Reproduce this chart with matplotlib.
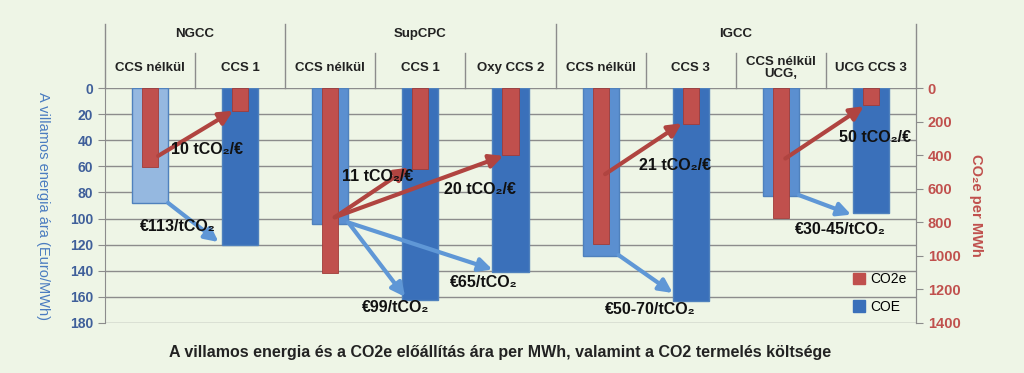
import matplotlib
matplotlib.use("Agg")
import matplotlib.pyplot as plt
from matplotlib.patches import Patch
from matplotlib.lines import Line2D

# ---- data ----
groups = ["NGCC", "SupCPC", "IGCC"]
group_sizes = [2, 3, 4]
categories = ["CCS nélkül", "CCS 1", "CCS nélkül", "CCS 1", "Oxy CCS 2",
              "CCS nélkül", "CCS 3", "CCS nélkül\nUCG,", "UCG CCS 3"]
coe = [88, 120, 104, 162, 141, 129, 163, 83, 96]          # Euro/MWh
co2e = [470, 135, 1105, 480, 400, 930, 215, 775, 100]     # CO2e per MWh
coe_kind = ["light", "dark", "mid", "dark", "dark", "mid", "dark", "mid", "dark"]
left_ticks = [0, 20, 40, 60, 80, 100, 120, 140, 160, 180]
right_ticks = [0, 200, 400, 600, 800, 1000, 1200, 1400]

# arrows: (x_from, y_from, x_to, y_to) in category index / left-axis units
red_arrows = [(0.09, 52, 0.92, 17.5), (2.05, 99, 2.87, 61), (2.05, 99, 3.92, 52),
              (5.05, 66, 5.9, 27), (7.05, 54, 7.92, 14)]
blue_arrows = [(0.2, 88, 0.76, 118), (2.2, 103, 2.83, 160), (2.2, 103, 3.8, 139),
               (5.2, 128, 5.8, 157), (7.2, 82, 7.78, 97)]
red_labels = [("10 tCO₂/€", 0.63, 47), ("11 tCO₂/€", 2.53, 68), ("20 tCO₂/€", 3.66, 78),
              ("21 tCO₂/€", 5.83, 59), ("50 tCO₂/€", 8.04, 38)]
blue_labels = [("€113/tCO₂", 0.31, 106), ("€99/tCO₂", 2.72, 168), ("€65/tCO₂", 3.7, 149),
               ("€50-70/tCO₂", 5.55, 170), ("€30-45/tCO₂", 7.66, 108)]

# ---- style ----
bg = "#EEF5E6"
col = {"light": "#95B8E0", "mid": "#5B8FD0", "dark": "#3A70BA"}
red = "#C0504D"
arrow_red = "#B04440"
arrow_blue = "#5F97D6"
grid_c = "#8C8C8C"
plt.rcParams['font.family'] = ['Liberation Sans', 'DejaVu Sans']

fig = plt.figure(figsize=(10.24, 3.73), dpi=100, facecolor=bg)
W, H = 1024, 373
x0, x1, ytop, ybot = 105, 916, 88, 323
ax = fig.add_axes([x0 / W, (H - ybot) / H, (x1 - x0) / W, (ybot - ytop) / H])
ax.set_facecolor(bg)
n = len(categories)
xs = list(range(n))
ax.set_xlim(-0.5, n - 0.5)
ax.set_ylim(180, 0)
ax.set_yticks(left_ticks)
ax.set_yticklabels([str(t) for t in left_ticks], fontsize=10, fontweight="bold")
ax.set_xticks([])
for t in left_ticks:
    ax.axhline(t, color=grid_c, lw=1.0, zorder=0)
for s in ["top", "bottom"]:
    ax.spines[s].set_visible(False)
ax.spines["left"].set_color(grid_c)
ax.spines["right"].set_color(grid_c)
ax.tick_params(axis="y", colors=grid_c, length=5, labelcolor="#3F5F9A")
ax.set_ylabel("A villamos energia ára (Euro/MWh)", color="#4A7CC0", fontsize=10.5,
              rotation=-90)
ax.yaxis.set_label_coords(-0.085, 0.5)

ax.bar(xs, coe, width=0.4, color=[col[k] for k in coe_kind], edgecolor="#4F81BD",
       linewidth=1.0, zorder=2)

ax2 = ax.twinx()
ax2.set_ylim(1400, 0)
ax2.set_yticks(right_ticks)
ax2.set_yticklabels([str(t) for t in right_ticks], fontsize=10.5, fontweight="bold")
ax2.tick_params(axis="y", colors=grid_c, length=5, labelcolor=red)
for s in ["top", "bottom", "left"]:
    ax2.spines[s].set_visible(False)
ax2.spines["right"].set_color(grid_c)
ax2.bar(xs, co2e, width=0.18, color=red, edgecolor="#A03C39", linewidth=0.6, zorder=3)
ax2.set_ylabel("CO₂e per MWh", color=red, fontsize=10.5, fontweight="bold",
               rotation=-90)
ax2.yaxis.set_label_coords(1.083, 0.5)

# arrows & labels drawn on top axis (ax2) using ax data coords
for (xa, ya, xb, yb) in red_arrows:
    ax2.annotate("", xy=(xb, yb), xytext=(xa, ya), xycoords=ax.transData,
                 textcoords=ax.transData,
                 arrowprops=dict(arrowstyle="-|>,head_length=0.8,head_width=0.4",
                                 color=arrow_red, lw=3, shrinkA=0, shrinkB=0), zorder=5)
for (xa, ya, xb, yb) in blue_arrows:
    ax2.annotate("", xy=(xb, yb), xytext=(xa, ya), xycoords=ax.transData,
                 textcoords=ax.transData,
                 arrowprops=dict(arrowstyle="-|>,head_length=0.8,head_width=0.4",
                                 color=arrow_blue, lw=3, shrinkA=0, shrinkB=0), zorder=5)
for (t, xx, yy) in red_labels + blue_labels:
    ax2.text(xx, yy, t, transform=ax.transData, ha="center", va="center",
             fontsize=11.5, fontweight="bold", color="#111111", zorder=6)

# legend
handles = [Patch(facecolor=red, edgecolor=red), Patch(facecolor=col["dark"], edgecolor=col["dark"])]
ax2.legend(handles, ["CO2e", "COE"], loc="lower right", bbox_to_anchor=(1.0, 0.0),
           frameon=False, fontsize=10, handlelength=0.9, handleheight=0.9,
           handletextpad=0.4, labelspacing=1.0, borderaxespad=0.25)

# header table above axes
hx = lambda px: px / W
hy = lambda py: (H - py) / H
group_bounds = [0]
for g in group_sizes:
    group_bounds.append(group_bounds[-1] + g)
for b in group_bounds:
    px = x0 + (x1 - x0) * b / n
    fig.add_artist(Line2D([hx(px), hx(px)], [hy(24), hy(ytop)], color=grid_c, lw=1.0))
for i in range(1, n):
    if i in group_bounds:
        continue
    px = x0 + (x1 - x0) * i / n
    fig.add_artist(Line2D([hx(px), hx(px)], [hy(53), hy(ytop)], color=grid_c, lw=1.0))
for gi, g in enumerate(groups):
    a, b = group_bounds[gi], group_bounds[gi + 1]
    px = x0 + (x1 - x0) * (a + b) / 2 / n
    fig.text(hx(px), hy(34), g, ha="center", va="center", fontsize=9.5,
             fontweight="bold", color="#222222")
for i, c in enumerate(categories):
    px = x0 + (x1 - x0) * (i + 0.5) / n
    fig.text(hx(px), hy(68), c, ha="center", va="center", fontsize=9.5,
             fontweight="bold", color="#222222", linespacing=0.95)

fig.text(hx(500), hy(352), "A villamos energia és a CO2e előállítás ára per MWh, valamint a CO2 termelés költsége",
         ha="center", va="center", fontsize=11.5, fontweight="bold", color="#222222")

fig.savefig("out.png", dpi=100, facecolor=bg)
